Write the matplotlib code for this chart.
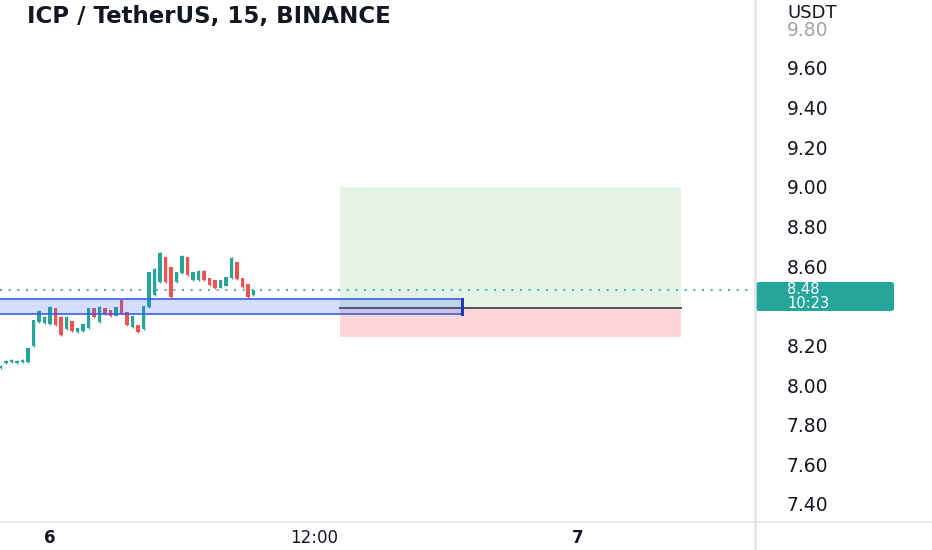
import matplotlib.pyplot as plt
import numpy as np
from matplotlib.patches import Rectangle, FancyBboxPatch

# 15 minute candles, index 9 = day 6 00:00
opens = [8.088, 8.110, 8.115, 8.112, 8.116, 8.118, 8.196, 8.318, 8.314, 8.308,
         8.388, 8.345, 8.282, 8.322, 8.266, 8.272, 8.288, 8.388, 8.318, 8.388,
         8.378, 8.350, 8.428, 8.368, 8.292, 8.303, 8.282, 8.392, 8.455, 8.520,
         8.645, 8.595, 8.518, 8.565, 8.645, 8.528, 8.528, 8.578, 8.540, 8.528,
         8.490, 8.502, 8.540, 8.620, 8.540, 8.508, 8.452]
highs = [8.100, 8.128, 8.133, 8.128, 8.133, 8.189, 8.330, 8.380, 8.350, 8.400,
         8.390, 8.350, 8.350, 8.325, 8.290, 8.310, 8.390, 8.390, 8.400, 8.390,
         8.380, 8.395, 8.431, 8.370, 8.350, 8.305, 8.400, 8.572, 8.592, 8.673,
         8.647, 8.597, 8.572, 8.657, 8.647, 8.572, 8.582, 8.582, 8.542, 8.531,
         8.531, 8.547, 8.647, 8.622, 8.542, 8.511, 8.481]
lows = [8.083, 8.106, 8.112, 8.108, 8.113, 8.113, 8.194, 8.315, 8.310, 8.305,
        8.300, 8.249, 8.280, 8.270, 8.264, 8.270, 8.285, 8.340, 8.315, 8.355,
        8.345, 8.350, 8.360, 8.300, 8.290, 8.264, 8.280, 8.390, 8.451, 8.516,
        8.516, 8.441, 8.516, 8.562, 8.552, 8.526, 8.526, 8.526, 8.501, 8.486,
        8.489, 8.501, 8.537, 8.531, 8.491, 8.441, 8.451]
closes = [8.096, 8.122, 8.128, 8.122, 8.128, 8.186, 8.326, 8.372, 8.345, 8.392,
          8.305, 8.255, 8.345, 8.273, 8.288, 8.308, 8.388, 8.342, 8.396, 8.357,
          8.348, 8.392, 8.362, 8.302, 8.347, 8.267, 8.398, 8.568, 8.588, 8.668,
          8.520, 8.445, 8.568, 8.652, 8.556, 8.568, 8.578, 8.530, 8.504, 8.489,
          8.528, 8.544, 8.643, 8.535, 8.494, 8.445, 8.478]

last_price = 8.48
countdown = "10:23"

# demand zone and long position drawing
zone_low, zone_high = 8.36, 8.436
zone_end = 83.9
entry, target, stop = 8.39, 9.00, 8.24
position_start, position_end = 61.7, 123.7

price_ticks = [7.40, 7.60, 7.80, 8.00, 8.20, 8.60, 8.80, 9.00, 9.20, 9.40, 9.60]
time_ticks = [9, 57, 105]
time_labels = ["6", "12:00", "7"]

UP = "#26a69a"
DOWN = "#ef5350"
TEXT = "#131722"
GRID = "#e0e3eb"

fig = plt.figure(figsize=(9.32, 5.50), dpi=100)
ax = fig.add_axes([0, 28 / 550, 755 / 932, 522 / 550])

idx = np.arange(len(opens))
o = np.array(opens)
c = np.array(closes)
colors = [UP if cc >= oo else DOWN for oo, cc in zip(o, c)]

ax.vlines(idx, lows, highs, colors=colors, lw=1.0, zorder=3)
ax.bar(idx, np.abs(c - o), bottom=np.minimum(o, c), width=0.6,
       color=colors, zorder=3)

# long position box
ax.fill_between([position_start, position_end], entry, target,
                color="#4caf50", alpha=0.14, lw=0, zorder=1)
ax.fill_between([position_start, position_end], stop, entry,
                color="#f23645", alpha=0.2, lw=0, zorder=1)
ax.plot([position_start, position_end], [entry, entry],
        color="#555555", lw=1.4, zorder=2)

# blue zone drawn over candles
ax.add_patch(Rectangle((-5, zone_low), zone_end + 5, zone_high - zone_low,
                       facecolor=(41 / 255, 98 / 255, 1, 0.2),
                       edgecolor="#3d5fe0", lw=1.2, zorder=4))
ax.plot([zone_end, zone_end], [zone_low, zone_high],
        color="#1f3bb0", lw=2.2, zorder=5)

# last price line
ax.axhline(last_price, color=UP, ls=(0, (1.2, 4)), lw=1.2, zorder=2)

ax.set_xlim(-0.1, 137.2)
ax.set_ylim(7.309, 9.943)

for s in ax.spines.values():
    s.set_visible(False)

ax.yaxis.tick_right()
ax.set_yticks(price_ticks)
ax.set_yticklabels([f"{p:.2f}" for p in price_ticks])
ax.tick_params(axis="y", length=0, pad=23, labelsize=13.5, labelcolor=TEXT)

ax.set_xticks(time_ticks)
ax.set_xticklabels(time_labels)
ax.tick_params(axis="x", length=0, pad=5, labelsize=12, labelcolor=TEXT)
for lab in ax.get_xticklabels():
    if lab.get_text() != "12:00":
        lab.set_fontweight("bold")

# axis borders
fig.add_artist(plt.Line2D([755 / 932, 755 / 932], [0, 1], color=GRID, lw=1.8))
fig.add_artist(plt.Line2D([0, 1], [28 / 550, 28 / 550], color=GRID, lw=1.2))

# faded top label and currency
fig.text(787 / 932, 1 - 31 / 550, "9.80", fontsize=13.5, color="#a0a4aa",
         va="center", ha="left")
fig.text(787 / 932, 1 - 13 / 550, "USDT", fontsize=13, color=TEXT,
         va="center", ha="left")

# last price label
box = FancyBboxPatch((756 / 932, 1 - 311 / 550), 138 / 932, 29 / 550,
                     boxstyle="round,pad=0,rounding_size=0.004",
                     transform=fig.transFigure, facecolor=UP, edgecolor="none")
fig.add_artist(box)
fig.text(787 / 932, 1 - 289 / 550, f"{last_price:.2f}", fontsize=10.5,
         color="white", va="center", ha="left")
fig.text(787 / 932, 1 - 303.5 / 550, countdown, fontsize=10.5,
         color="white", va="center", ha="left")

fig.text(27 / 932, 1 - 16 / 550, "ICP / TetherUS, 15, BINANCE",
         fontsize=16.5, fontweight="bold", color=TEXT, va="center", ha="left")

fig.savefig("out.png", dpi=100)
